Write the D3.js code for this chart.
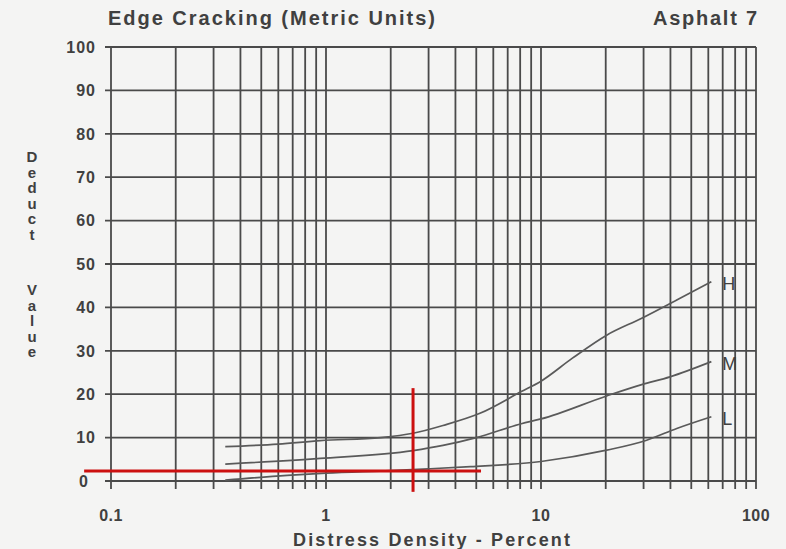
<!DOCTYPE html>
<html>
<head>
<meta charset="utf-8">
<script src="https://cdn.jsdelivr.net/npm/d3@7"></script>
<style>
  html, body { margin: 0; padding: 0; background: #f4f4f3; }
  svg { display: block; }
  text { font-family: "Liberation Sans", Arial, sans-serif; fill: #404040; }
</style>
</head>
<body>
<svg id="chart" width="786" height="549"></svg>
<script>
// ---- data ----
const titleText = "Edge Cracking (Metric Units)";
const subTitleText = "Asphalt 7";
const xAxisTitle = "Distress Density - Percent";
const yAxisTitle = "Deduct Value";

const xTickValues = [0.1, 1, 10, 100];
const xTickLabels = ["0.1", "1", "10", "100"];
const yTickValues = [0, 10, 20, 30, 40, 50, 60, 70, 80, 90, 100];
const yTickLabels = ["0", "10", "20", "30", "40", "50", "60", "70", "80", "90", "100"];

const seriesNames = ["H", "M", "L"];
const hX = [0.34, 0.6, 0.94, 1.8, 2.54, 3.5, 5.2, 8.1, 10, 14, 20.2, 29.4, 42.8, 62];
const hY = [7.9, 8.5, 9.3, 10.0, 11.0, 12.8, 15.6, 20.6, 23, 28.3, 33.6, 37.5, 41.7, 45.9];
const mX = [0.34, 0.94, 2.54, 3.5, 5, 8.1, 10, 20.2, 29.4, 39.8, 62];
const mY = [3.9, 5.2, 7.0, 8.2, 10.0, 13.2, 14.3, 19.6, 22.2, 24.0, 27.5];
const lX = [0.34, 0.66, 1, 2, 3, 4.7, 10, 20.2, 31, 42.8, 62];
const lY = [0.2, 1.3, 1.8, 2.4, 2.8, 3.3, 4.5, 7.1, 9.4, 12.1, 14.8];

// red reading guide
const guideX = 2.54;
const guideY = 2.3;
const guideXSpan = [0.075, 5.26];
const guideYSpan = [-2.5, 21.4];

// ---- drawing ----
const svg = d3.select("#chart");
const x = d3.scaleLog().domain([0.1, 100]).range([111, 756]);
const y = d3.scaleLinear().domain([0, 100]).range([481, 47]);

const gridColor = "#4a4a4a";

// vertical grid lines (log grid)
svg.append("g").selectAll("line")
  .data(x.ticks())
  .join("line")
  .attr("x1", d => x(d)).attr("x2", d => x(d))
  .attr("y1", y(100)).attr("y2", y(0) + 8)
  .attr("stroke", gridColor)
  .attr("stroke-width", 1.8);

// horizontal grid lines
svg.append("g").selectAll("line")
  .data(yTickValues)
  .join("line")
  .attr("x1", x(0.1) - 6).attr("x2", x(100))
  .attr("y1", d => y(d)).attr("y2", d => y(d))
  .attr("stroke", gridColor)
  .attr("stroke-width", 1.8);

// y tick labels
svg.append("g").selectAll("text")
  .data(yTickValues)
  .join("text")
  .attr("x", (d, i) => yTickLabels[i] === "0" ? 89 : 96)
  .attr("y", d => y(d))
  .attr("dy", "0.36em")
  .attr("text-anchor", "end")
  .attr("font-size", 16)
  .attr("font-weight", "bold")
  .attr("letter-spacing", 1)
  .attr("fill", "#4a4a4a")
  .text((d, i) => yTickLabels[i]);

// x tick labels
svg.append("g").selectAll("text")
  .data(xTickValues)
  .join("text")
  .attr("x", d => x(d))
  .attr("y", 521)
  .attr("text-anchor", "middle")
  .attr("font-size", 16)
  .attr("font-weight", "bold")
  .attr("letter-spacing", 0.5)
  .attr("fill", "#4a4a4a")
  .text((d, i) => xTickLabels[i]);

// curves
const line = d3.line()
  .x(d => x(d[0]))
  .y(d => y(d[1]))
  .curve(d3.curveMonotoneX);

const series = [
  { name: seriesNames[0], xs: hX, ys: hY },
  { name: seriesNames[1], xs: mX, ys: mY },
  { name: seriesNames[2], xs: lX, ys: lY }
];

series.forEach(s => {
  const pts = s.xs.map((v, i) => [v, s.ys[i]]);
  svg.append("path")
    .datum(pts)
    .attr("d", line)
    .attr("fill", "none")
    .attr("stroke", "#5a5a5a")
    .attr("stroke-width", 1.7);
  const last = pts[pts.length - 1];
  svg.append("text")
    .attr("x", x(last[0]) + 11)
    .attr("y", y(last[1]) + 2)
    .attr("dy", "0.36em")
    .attr("font-size", 18)
    .attr("fill", "#3c3c3c")
    .text(s.name);
});

// red guide lines
svg.append("line")
  .attr("x1", x(guideXSpan[0])).attr("x2", x(guideXSpan[1]))
  .attr("y1", y(guideY)).attr("y2", y(guideY))
  .attr("stroke", "#cc1010").attr("stroke-width", 3);
svg.append("line")
  .attr("x1", x(guideX)).attr("x2", x(guideX))
  .attr("y1", y(guideYSpan[0])).attr("y2", y(guideYSpan[1]))
  .attr("stroke", "#cc1010").attr("stroke-width", 3);

// titles
svg.append("text")
  .attr("x", 108).attr("y", 25)
  .attr("font-size", 20)
  .attr("font-weight", "bold")
  .attr("fill", "#3a3a3a")
  .attr("textLength", 327)
  .attr("lengthAdjust", "spacing")
  .text(titleText);

svg.append("text")
  .attr("x", 653).attr("y", 25)
  .attr("font-size", 20)
  .attr("font-weight", "bold")
  .attr("fill", "#3a3a3a")
  .attr("textLength", 104)
  .attr("lengthAdjust", "spacing")
  .text(subTitleText);

// x axis title
svg.append("text")
  .attr("x", 293).attr("y", 546)
  .attr("font-size", 18)
  .attr("font-weight", "bold")
  .attr("fill", "#3a3a3a")
  .attr("textLength", 277)
  .attr("lengthAdjust", "spacing")
  .text(xAxisTitle);

// y axis title, stacked letters
const yLetters = yAxisTitle.split("");
let yPos = 157;
const yTitle = svg.append("g");
yLetters.forEach(ch => {
  if (ch === " ") { yPos += 40; return; }
  yTitle.append("text")
    .attr("x", 32).attr("y", yPos)
    .attr("dy", "0.36em")
    .attr("text-anchor", "middle")
    .attr("font-size", 15)
    .attr("font-weight", "bold")
    .attr("fill", "#555")
    .text(ch);
  yPos += 15.5;
});
</script>
</body>
</html>
